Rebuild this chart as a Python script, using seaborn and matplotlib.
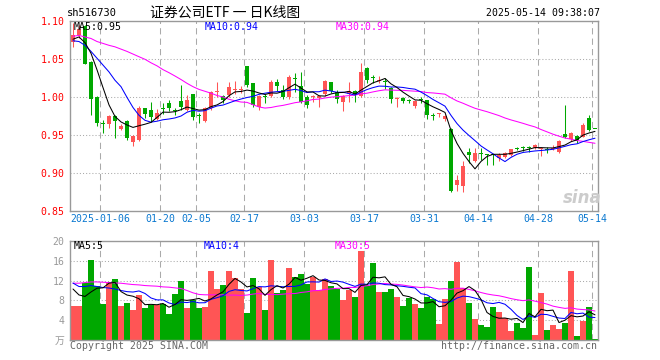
import numpy as np
import pandas as pd
import matplotlib
matplotlib.use("Agg")
import matplotlib.pyplot as plt
import seaborn as sns

# ---------------- data ----------------
tick_idx = [5, 15, 21, 29, 39, 49, 59, 68, 78, 87]
tick_labels = ["2025-01-06", "01-20", "02-05", "02-17", "03-03",
               "03-17", "03-31", "04-14", "04-28", "05-14"]

opens = [1.073, 1.0816, 1.093, 1.046, 1.000, 0.966, 0.9645, 0.975, 0.958, 0.968,
         0.9405, 0.944, 0.985, 0.983, 0.971, 0.985, 0.9915, 0.9825, 0.9945, 0.9835,
         1.004, 0.975, 0.969, 0.985, 1.006, 1.0015, 1.0025, 1.009, 1.0095, 1.041,
         1.018, 0.987, 1.0005, 1.001, 1.020, 1.009, 1.000, 1.024, 1.0145, 0.9995,
         0.9995, 0.9985, 1.004, 1.020, 1.007, 0.994, 1.004, 1.008, 1.0015, 1.0385,
         1.026, 1.0205, 1.020, 1.0115, 0.998, 0.9985, 0.9955, 0.988, 0.996, 0.996,
         0.975, 0.977, 0.9705, 0.958, 0.8842, 0.8829, 0.928, 0.9158, 0.926, 0.9237,
         0.924, 0.9193, 0.9206, 0.9237, 0.9327, 0.9335, 0.934, 0.9333, 0.931, 0.931,
         0.932, 0.9281, 0.9513, 0.9443, 0.9487, 0.9478, 0.9719, 0.9575]
highs = [1.097, 1.095, 1.095, 1.047, 1.001, 0.970, 0.976, 0.976, 0.965, 0.970,
         0.950, 0.988, 0.986, 0.994, 0.984, 0.9925, 0.996, 0.986, 1.016, 1.0025,
         1.004, 0.9785, 0.987, 1.008, 1.020, 1.0025, 1.020, 1.021, 1.0145, 1.041,
         1.018, 1.002, 1.004, 1.0225, 1.0235, 1.016, 1.029, 1.031, 1.033, 1.0025,
         1.0025, 1.002, 1.023, 1.020, 1.009, 1.002, 1.020, 1.009, 1.045, 1.040,
         1.029, 1.0275, 1.0245, 1.0135, 1.0005, 1.0005, 0.998, 0.996, 0.9995, 0.996,
         0.9785, 0.9795, 0.9765, 0.959, 0.8974, 0.9158, 0.9333, 0.9333, 0.9325, 0.9245,
         0.9245, 0.9259, 0.928, 0.9316, 0.9346, 0.9355, 0.9355, 0.938, 0.9346, 0.9346,
         0.9368, 0.9434, 0.9895, 0.9544, 0.950, 0.9653, 0.9763, 0.9576]
lows = [1.066, 1.077, 1.043, 0.976, 0.962, 0.952, 0.959, 0.946, 0.957, 0.944,
        0.935, 0.9425, 0.972, 0.9675, 0.970, 0.9775, 0.981, 0.976, 0.983, 0.981,
        0.970, 0.966, 0.9675, 0.983, 0.9995, 0.9925, 0.9995, 1.004, 1.0057, 1.0135,
        0.9865, 0.983, 0.9925, 1.0005, 1.008, 0.998, 0.998, 1.007, 0.9925, 0.985,
        0.9935, 0.9865, 1.0015, 1.005, 0.9925, 0.982, 0.994, 0.994, 0.9995, 1.018,
        1.019, 1.018, 1.011, 0.9925, 0.987, 0.9915, 0.9915, 0.985, 0.9915, 0.9705,
        0.9695, 0.9735, 0.969, 0.8754, 0.8768, 0.8754, 0.9127, 0.915, 0.917, 0.9105,
        0.9105, 0.9162, 0.9193, 0.9224, 0.9303, 0.929, 0.928, 0.932, 0.9224, 0.9268,
        0.930, 0.9268, 0.9465, 0.9425, 0.940, 0.9469, 0.9557, 0.9573]
closes = [1.082, 1.089, 1.044, 0.998, 0.966, 0.965, 0.975, 0.968, 0.962, 0.946,
          0.949, 0.986, 0.978, 0.974, 0.9785, 0.984, 0.985, 0.982, 0.987, 0.996,
          0.974, 0.9748, 0.985, 1.007, 1.007, 0.996, 1.0135, 1.010, 1.010, 1.016,
          0.9895, 1.001, 1.000, 1.020, 1.0145, 1.0005, 1.026, 1.0235, 0.994, 0.9895,
          1.000, 1.001, 1.0215, 1.008, 0.998, 1.0015, 1.008, 1.004, 1.0335, 1.0225,
          1.0255, 1.021, 1.0195, 0.998, 0.9985, 0.995, 0.995, 0.9945, 0.9955, 0.976,
          0.9745, 0.9775, 0.975, 0.8768, 0.8908, 0.9092, 0.9237, 0.9268, 0.9255, 0.9235,
          0.9235, 0.9237, 0.9268, 0.9316, 0.9322, 0.933, 0.9335, 0.9368, 0.9315, 0.9305,
          0.9325, 0.9425, 0.9469, 0.9531, 0.9434, 0.9632, 0.9566, 0.9574]
volumes = [6.8, 6.8, 11.5, 16.2, 11.0, 7.2, 11.5, 12.4, 6.8, 7.5,
           6.0, 9.0, 6.4, 7.1, 7.1, 7.3, 5.2, 9.2, 11.9, 6.4,
           8.1, 6.4, 6.6, 14.0, 10.4, 11.2, 14.0, 12.6, 10.4, 5.4,
           12.6, 10.7, 6.0, 16.2, 9.4, 10.2, 14.6, 12.8, 13.4, 11.4,
           12.8, 10.2, 12.4, 11.0, 10.3, 8.0, 10.2, 8.6, 18.0, 11.0,
           15.6, 9.6, 9.6, 10.4, 8.6, 6.8, 8.4, 7.2, 6.4, 8.6,
           8.2, 3.2, 8.2, 12.0, 15.8, 10.6, 7.4, 4.2, 3.0, 2.6,
           6.6, 5.6, 4.4, 1.8, 3.4, 2.4, 14.8, 1.0, 9.4, 2.0,
           3.0, 2.2, 3.4, 14.0, 0.8, 3.8, 6.6, 0.2]

# moving-average values at the start of the window (they depend on earlier days)
ma5_head = [1.076, 1.079, 1.0715, 1.0575]
ma10_head = [1.074, 1.073, 1.068, 1.060, 1.051, 1.042, 1.033, 1.022, 1.0136]
ma30_head = [1.080, 1.081, 1.079, 1.077, 1.073, 1.0705, 1.068, 1.066, 1.063, 1.060,
             1.0565, 1.053, 1.0496, 1.045, 1.041, 1.036, 1.032, 1.0276, 1.023, 1.018,
             1.0136, 1.010, 1.0075, 1.005, 1.002, 1.0, 0.997, 0.995, 0.9934]
vma5_head = [10.3, 9.1, 8.8, 9.7]
vma10_head = [11.5, 10.8, 10.8, 11.0, 10.8, 10.6, 10.5, 10.3, 10.0]
vma30_head = [11.47, 11.47, 11.6, 11.73, 11.73, 11.67, 11.6, 11.53, 11.47, 11.33,
              11.2, 11.13, 11.0, 10.93, 10.87, 10.73, 10.67, 10.53, 10.4, 10.0,
              9.53, 9.2, 9.13, 9.13, 9.13, 9.13, 9.07, 9.07, 9.0]

price_ticks = [0.85, 0.90, 0.95, 1.00, 1.05, 1.10]
vol_ticks = [0, 4, 8, 12, 16, 20]
vol_tick_labels = ["万", "4", "8", "12", "16", "20"]

# ---------------- style ----------------
sns.set_style("white")
plt.rcParams['font.family'] = ['DejaVu Sans Mono', 'Noto Sans CJK SC']
plt.rcParams['axes.unicode_minus'] = False

RED = '#ff5555'
GREEN = '#00a800'
GRID = '#aaaaaa'
FRAME = '#999999'
FS = 7.1
LW = 0.75

W, H = 660, 360
fig = plt.figure(figsize=(6.6, 3.6), dpi=100)
fig.patch.set_facecolor('white')


def frac(x0, y0, x1, y1):
    return [x0 / W, 1 - y1 / H, (x1 - x0) / W, (y1 - y0) / H]


def ftxt(x, y, s, **kw):
    fig.text(x / W, 1 - y / H, s, va='center', **kw)


ax = fig.add_axes(frac(70, 21, 598, 211))
axv = fig.add_axes(frac(70, 241, 598, 340))

n = len(closes)
pos = np.arange(n) + 0.5
o = np.array(opens)
c = np.array(closes)
hi = np.array(highs)
lo = np.array(lows)
up = c >= o
cols = np.where(up, RED, GREEN)


def moving(vals, win, head):
    r = pd.Series(vals, dtype=float).rolling(win).mean().to_numpy()
    r[:win - 1] = head
    return r


ma5 = moving(closes, 5, ma5_head)
ma10 = moving(closes, 10, ma10_head)
ma30 = moving(closes, 30, ma30_head)
vma5 = moving(volumes, 5, vma5_head)
vma10 = moving(volumes, 10, vma10_head)
vma30 = moving(volumes, 30, vma30_head)

# ---------------- price panel ----------------
for lv in price_ticks[1:-1]:
    ax.axhline(lv, color=GRID, lw=LW, ls=(0, (1, 2)), zorder=0)
for t in tick_idx:
    ax.axvline(t, color=GRID, lw=LW, ls=(0, (6, 4)), zorder=0)

ax.vlines(pos, lo, hi, colors=cols, linewidth=LW, zorder=2)
ax.bar(pos, np.maximum(np.abs(c - o), 0.0013), bottom=np.minimum(o, c),
       width=0.8, color=cols, linewidth=0, zorder=3)

sns.lineplot(x=pos, y=ma30, color='#ff00ff', linewidth=LW, ax=ax, zorder=4)
sns.lineplot(x=pos, y=ma10, color='#0000ff', linewidth=LW, ax=ax, zorder=5)
sns.lineplot(x=pos, y=ma5, color='black', linewidth=LW, ax=ax, zorder=6)

ax.set_xlim(0, n)
ax.set_ylim(0.85, 1.10)
ax.set_yticks(price_ticks)
ax.set_yticklabels([f"{v:.2f}" for v in price_ticks])
ax.set_xticks(tick_idx)
ax.set_xticklabels(tick_labels)
ax.tick_params(axis='y', colors='red', labelsize=FS, length=0, pad=4)
ax.tick_params(axis='x', colors='#0a78d0', labelsize=FS, length=0, pad=2)
ax.set_xlabel('')
ax.set_ylabel('')
for sp in ax.spines.values():
    sp.set_color(FRAME)
    sp.set_linewidth(1)

# ---------------- volume panel ----------------
for lv in vol_ticks[1:-1]:
    axv.axhline(lv, color=GRID, lw=LW, ls=(0, (1, 2)), zorder=0)
for t in tick_idx:
    axv.axvline(t, color=GRID, lw=LW, ls=(0, (6, 4)), zorder=0)

vdf = pd.DataFrame({'pos': pos, 'vol': volumes, 'dir': np.where(up, 'up', 'down')})
sns.barplot(data=vdf, x='pos', y='vol', hue='dir', palette={'up': RED, 'down': GREEN},
            native_scale=True, dodge=False, width=0.92, errorbar=None, legend=False,
            saturation=1, linewidth=0, ax=axv, zorder=2)

sns.lineplot(x=pos, y=vma30, color='#ff00ff', linewidth=LW, ax=axv, zorder=4)
sns.lineplot(x=pos, y=vma10, color='#0000ff', linewidth=LW, ax=axv, zorder=5)
sns.lineplot(x=pos, y=vma5, color='black', linewidth=LW, ax=axv, zorder=6)

axv.set_xlim(0, n)
axv.set_ylim(0, 20)
axv.set_yticks(vol_ticks)
axv.set_yticklabels(vol_tick_labels)
axv.set_xticks([])
axv.tick_params(axis='y', colors='#999999', labelsize=FS, length=0, pad=4)
axv.set_xlabel('')
axv.set_ylabel('')
for sp in axv.spines.values():
    sp.set_color(FRAME)
    sp.set_linewidth(1)

# ---------------- texts ----------------
ftxt(67, 13, 'sh516730', fontsize=7.5, color='black', ha='left')
ftxt(150, 13, '证券公司ETF 一 日K线图', fontsize=10, color='black', ha='left',
     family=['Noto Sans CJK SC', 'DejaVu Sans'])
ftxt(600, 13, '2025-05-14 09:38:07', fontsize=FS, color='black', ha='right')

ftxt(74, 26.5, 'MA5:0.95', fontsize=FS, color='black', ha='left')
ftxt(205, 26.5, 'MA10:0.94', fontsize=FS, color='#0000ff', ha='left')
ftxt(336, 26.5, 'MA30:0.94', fontsize=FS, color='#ff00ff', ha='left')

ftxt(74, 246, 'MA5:5', fontsize=FS, color='black', ha='left')
ftxt(204, 246, 'MA10:4', fontsize=FS, color='#0000ff', ha='left')
ftxt(335, 246, 'MA30:5', fontsize=FS, color='#ff00ff', ha='left')

ftxt(70, 346, 'Copyright 2025 SINA.COM', fontsize=FS, color='#666666', ha='left')
ftxt(597, 346, 'http://finance.sina.com.cn', fontsize=FS, color='#666666', ha='right')

ftxt(582, 198, 'sina', fontsize=12, color='#cccccc', ha='center',
     fontweight='bold', style='italic', family='DejaVu Sans')

fig.savefig('out.png', dpi=100, facecolor='white')
